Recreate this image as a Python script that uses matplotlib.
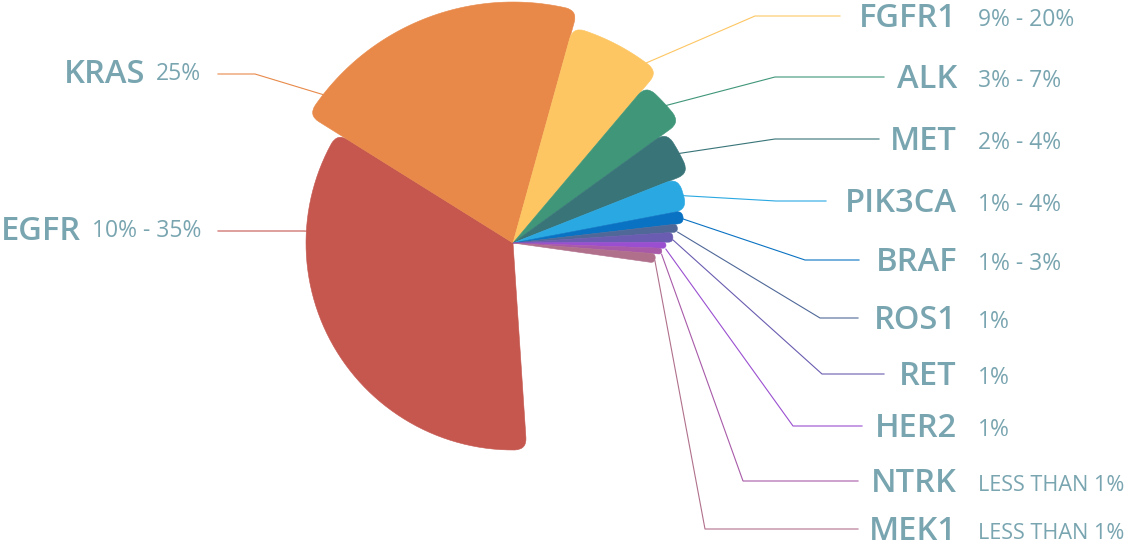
import numpy as np
import matplotlib.pyplot as plt
from matplotlib.path import Path
from matplotlib.patches import PathPatch

# slice data (angles in degrees, counter-clockwise from 3 o'clock)
genes = ['EGFR', 'KRAS', 'FGFR1', 'ALK', 'MET', 'PIK3CA', 'BRAF',
         'ROS1', 'RET', 'HER2', 'NTRK', 'MEK1']
freq = ['10% - 35%', '25%', '9% - 20%', '3% - 7%', '2% - 4%', '1% - 4%',
        '1% - 3%', '1%', '1%', '1%', 'LESS THAN 1%', 'LESS THAN 1%']
theta_start = [148.0, 74.5, 49.8, 35.9, 21.6, 10.8, 6.6, 3.8, 0.3, -2.0, -4.3, -8.0]
theta_end = [273.8, 148.0, 74.5, 49.8, 35.9, 21.6, 10.8, 6.6, 3.8, 0.3, -2.0, -4.3]
radius = [207, 241, 224, 206, 189, 177, 172, 165, 160, 153, 149, 143]
colors = ['#c5574f', '#e8894a', '#fdc663', '#3f9678', '#387478', '#2aa8e2',
          '#0a72c2', '#4f6898', '#6a5cb0', '#9a4fd0', '#a85aa8', '#b0708c']

# label layout
anchor = [176.7, 142.0, 53.5, 41.9, 28.3, 15.5, 8.0, 3.8, 1.1, -2.3, -4.3, -7.1]
elbow_x = [302, 255, 755, 775, 775, 776, 805, 820, 822, 793, 743, 705]
label_y = [231, 74, 16, 77, 139, 201, 260, 318, 374, 426, 481, 529]
line_end = [218, 218, 840, 884, 879, 826, 859, 858, 884, 862, 858, 858]

cx, cy = 513, 243
txt_col = '#79a5b0'
plt.rcParams['font.family'] = ['Open Sans', 'DejaVu Sans']


def rounded_wedge(r, t1, t2, rc=12):
    a1, a2 = np.radians(t1), np.radians(t2)
    half = (a2 - a1) / 2
    rc = min(rc, r * half * 0.95)
    da = rc / r
    pt = lambda rr, a: (cx + rr * np.cos(a), cy - rr * np.sin(a))
    verts = [(cx, cy), pt(r - rc, a1), pt(r, a1), pt(r, a1 + da)]
    codes = [Path.MOVETO, Path.LINETO, Path.CURVE3, Path.CURVE3]
    for a in np.linspace(a1 + da, a2 - da, 60)[1:]:
        verts.append(pt(r, a))
        codes.append(Path.LINETO)
    verts += [pt(r, a2), pt(r - rc, a2), (cx, cy)]
    codes += [Path.CURVE3, Path.CURVE3, Path.CLOSEPOLY]
    return Path(verts, codes)


fig = plt.figure(figsize=(11.28, 5.47), dpi=100)
ax = fig.add_axes([0, 0, 1, 1])
ax.set_xlim(0, 1128)
ax.set_ylim(547, 0)
ax.axis('off')

for i in range(len(genes)):
    p = rounded_wedge(radius[i], theta_start[i], theta_end[i])
    ax.add_patch(PathPatch(p, facecolor=colors[i], edgecolor=colors[i], lw=0.4, zorder=2))

    a = np.radians(anchor[i])
    x0 = cx + radius[i] * np.cos(a)
    y0 = cy - radius[i] * np.sin(a)
    ax.plot([x0, elbow_x[i], line_end[i]], [y0, label_y[i], label_y[i]],
            color=colors[i], lw=0.8, zorder=1)

    vsize = 15.6 if len(freq[i]) > 10 else 16.5
    if line_end[i] < cx:
        # left side: value right aligned, name to its left
        t = ax.text(201, label_y[i] + 6, freq[i], ha='right', va='baseline',
                    fontsize=vsize, color=txt_col)
        fig.canvas.draw()
        bb = t.get_window_extent()
        ax.text(bb.x0 - 11, label_y[i] + 9, genes[i], ha='right', va='baseline',
                fontsize=23.5, fontweight='semibold', color=txt_col)
    else:
        ax.text(957, label_y[i] + 11, genes[i], ha='right', va='baseline',
                fontsize=23.5, fontweight='semibold', color=txt_col)
        ax.text(978, label_y[i] + 10, freq[i], ha='left', va='baseline',
                fontsize=vsize, color=txt_col)

fig.savefig('out.png', dpi=100)
